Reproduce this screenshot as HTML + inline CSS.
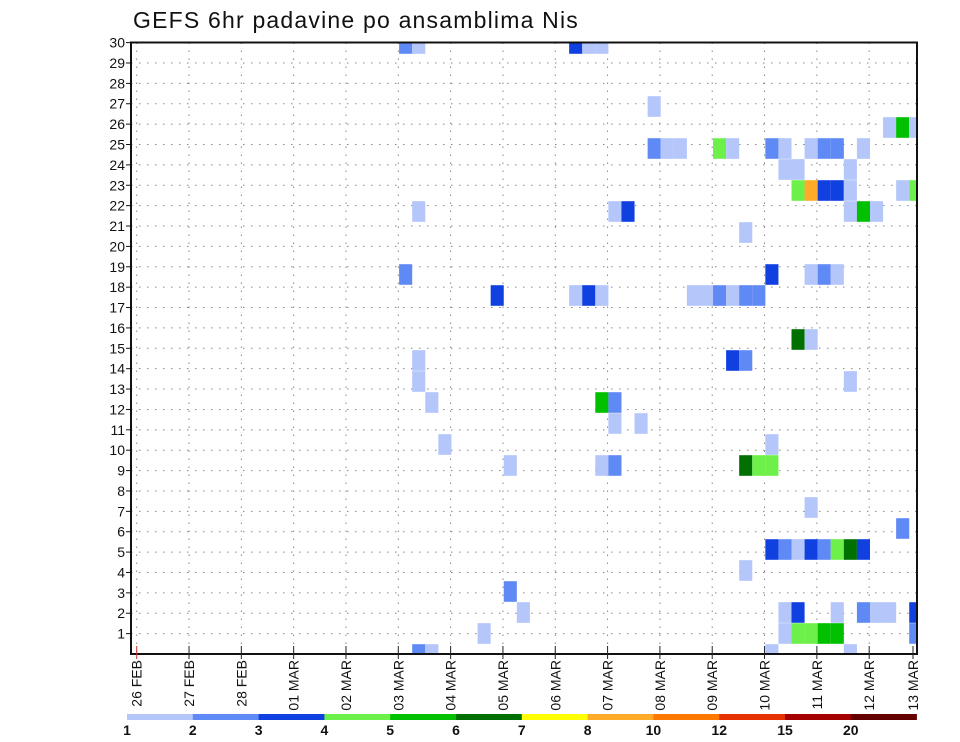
<!DOCTYPE html>
<html><head><meta charset="utf-8"><style>
html,body{margin:0;padding:0;background:#fff;}
svg{display:block;font-family:"Liberation Sans",sans-serif;}
</style></head><body>
<svg id="chart" width="960" height="742" viewBox="0 0 960 742">
<text x="133" y="28" font-size="23" fill="#111" letter-spacing="1.2">GEFS 6hr padavine po ansamblima Nis</text>
<defs><clipPath id="plotclip"><rect x="131" y="42.5" width="786" height="611.5"/></clipPath></defs>
<g id="grid"></g>
<g id="cells" clip-path="url(#plotclip)"></g>
<rect x="131" y="42.5" width="786" height="611.5" fill="none" stroke="#111" stroke-width="2"/>
<g id="yaxis"></g>
<g id="xaxis"></g>
<g id="colorbar"></g>
</svg>
<script>
// ---- data ----
const yTickLabels = ["1","2","3","4","5","6","7","8","9","10","11","12","13","14","15","16","17","18","19","20","21","22","23","24","25","26","27","28","29","30"];
const xTickLabels = ["26 FEB","27 FEB","28 FEB","01 MAR","02 MAR","03 MAR","04 MAR","05 MAR","06 MAR","07 MAR","08 MAR","09 MAR","10 MAR","11 MAR","12 MAR","13 MAR"];
const levelBounds = [1,2,3,4,5,6,7,8,10,12,15,20];
const levelColors = ["#b4c6fa","#5f8af5","#1040e0","#6ef04a","#00c000","#007000","#ffff00","#ffaa28","#ff7800","#e63200","#a50000","#640000"];
// each cell: ensemble member, 6-hourly step index (from 26 FEB 00z), precipitation (mm)
const cellMember = [30,30,30,30,30, 27, 26,26,26, 25,25,25,25,25,25,25,25,25,25,25, 24,24,24, 23,23,23,23,23,23,23, 22,22,22,22,22,22, 21, 19,19,19,19,19, 18,18,18,18,18,18,18,18,18,18, 15,15, 14,14,14, 13,13, 12,12,12, 11,11, 10,10, 9,9,9,9,9,9, 7, 6, 5,5,5,5,5,5,5,5, 4, 3, 2,2,2,2,2,2,2,2, 1,1,1,1,1,1,1, 0,0,0,0];
const cellStep   = [20,21,33,34,35, 39, 57,58,59, 39,40,41,44,45,48,49,51,52,53,55, 49,50,54, 50,51,52,53,54,58,59, 21,36,37,54,55,56, 46, 20,48,51,52,53, 27,33,34,35,42,43,44,45,46,47, 50,51, 21,45,46, 21,54, 22,35,36, 36,38, 23,48, 28,35,36,46,47,48, 51, 58, 48,49,50,51,52,53,54,55, 46, 28, 29,49,50,53,55,56,57,59, 26,49,50,51,52,53,59, 21,22,48,54];
const cellValue  = [2.5,1.5,3.5,1.5,1.5, 1.5, 1.5,5.5,1.5, 2.5,1.5,1.5,4.5,1.5,2.5,1.5,1.5,2.5,2.5,1.5, 1.5,1.5,1.5, 4.5,9,3.5,3.5,1.5,1.5,4.5, 1.5,1.5,3.5,1.5,5.5,1.5, 1.5, 2.5,3.5,1.5,2.5,1.5, 3.5,1.5,3.5,1.5,1.5,1.5,2.5,1.5,2.5,2.5, 6.5,1.5, 1.5,3.5,2.5, 1.5,1.5, 1.5,5.5,2.5, 1.5,1.5, 1.5,1.5, 1.5,1.5,2.5,6.5,4.5,4.5, 1.5, 2.5, 3.5,2.5,1.5,3.5,2.5,4.5,6.5,3.5, 1.5, 2.5, 1.5,1.5,3.5,1.5,2.5,1.5,1.5,3.5, 1.5,1.5,4.5,4.5,5.5,5.5,2.5, 2.5,1.5,1.5,1.5];

// ---- scales ----
const NS = "http://www.w3.org/2000/svg";
const plotL = 131, plotR = 917, plotT = 42.5, plotB = 654;
function xStep(c){ return 136.7 + c*13.08; }
function yGrid(v){ return plotB - v*20.38; }
function rowCenter(m){ return m <= 15 ? 633.5 - (m-1)*21 : 43.5 + (30-m)*21; }
function colorFor(v){ let i=0; for(let k=0;k<levelBounds.length;k++){ if(v>=levelBounds[k]) i=k; } return levelColors[i]; }
function mk(tag, attrs, parent){ const e=document.createElementNS(NS,tag); for(const k in attrs) e.setAttribute(k,attrs[k]); parent.appendChild(e); return e; }

// ---- grid ----
const grid = document.getElementById('grid');
for(let i=0;i<yTickLabels.length;i++){
  const y = yGrid(i+1);
  const l = mk('line',{x1:plotL,x2:plotR,y1:y,y2:y,stroke:'#888','stroke-width':1,'stroke-dasharray':'1.5 6.5'},grid);
  
  
}
for(let d=0; d<xTickLabels.length-1; d++){
  const x = xStep(d*4);
  const l = mk('line',{x1:x,x2:x,y1:plotT,y2:plotB,stroke:'#888','stroke-width':1,'stroke-dasharray':'1.5 6.5'},grid);
  
  
}

// ---- cells ----
const cells = document.getElementById('cells');
for(let i=0;i<cellMember.length;i++){
  const cy = rowCenter(cellMember[i]);
  const r = mk('rect',{x:xStep(cellStep[i])+0.8,y:cy-10.3,width:13.1,height:20.6,fill:colorFor(cellValue[i])},cells);
  
  
}

// ---- y axis ----
const ya = document.getElementById('yaxis');
for(let i=0;i<yTickLabels.length;i++){
  const y = yGrid(i+1);
  const t = mk('line',{x1:plotL-5,x2:plotL,y1:y,y2:y,stroke:'#111','stroke-width':1},ya);
  
  
  const tx = mk('text',{x:plotL-6,y:y+5,'font-size':14,'text-anchor':'end',fill:'#111'},ya);
  tx.textContent = yTickLabels[i];
  
  
}

// ---- x axis ----
const xa = document.getElementById('xaxis');
for(let d=0; d<xTickLabels.length; d++){
  let x = xStep(d*4);
  if(x > plotR-4) x = plotR-4;
  const t = mk('line',{x1:x,x2:x,y1:plotB-8,y2:plotB+5,stroke:d===0?'#c33':'#222','stroke-width':1},xa);
  
  
  const tx = mk('text',{x:0,y:0,'font-size':14,'text-anchor':'end',fill:'#111',transform:'translate('+(x+5)+','+(plotB+6)+') rotate(-90)'},xa);
  tx.textContent = xTickLabels[d];
  
  
}

// ---- color bar ----
const cb = document.getElementById('colorbar');
const cbX0 = 127, cbW = 65.8;
for(let k=0;k<levelColors.length;k++){
  const r = mk('rect',{x:cbX0+k*cbW,y:714,width:cbW+0.3,height:6,fill:levelColors[k]},cb);
  
  
  const tx = mk('text',{x:cbX0+k*cbW,y:735,'font-size':14,'font-weight':'bold','text-anchor':'middle',fill:'#111'},cb);
  tx.textContent = String(levelBounds[k]);
  
  
}
</script>
</body></html>
